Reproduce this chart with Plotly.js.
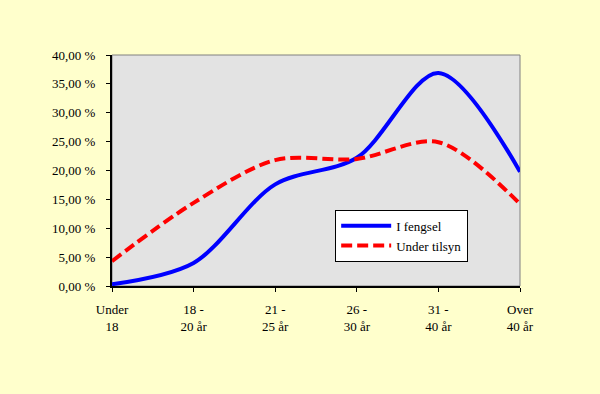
<!DOCTYPE html>
<html>
<head>
<meta charset="utf-8">
<script src="https://cdn.plot.ly/plotly-3.0.1.min.js"></script>
<style>html,body{margin:0;padding:0;background:#FFFFCC;}#chart{width:600px;height:394px;}</style>
</head>
<body>
<div id="chart"></div>
<script>
const categories = ["Under<br>18", "18 -<br>20 år", "21 -<br>25 år", "26 -<br>30 år", "31 -<br>40 år", "Over<br>40 år"];
const iFengsel = [0.3, 4.0, 17.6, 22.2, 36.9, 19.8];
const underTilsyn = [4.3, 14.4, 21.8, 22.0, 24.9, 14.2];
const yTicks = [0, 5, 10, 15, 20, 25, 30, 35, 40];
const yTickText = yTicks.map(v => v.toFixed(2).replace('.', ',') + ' %');

const xIdx = categories.map((c, i) => i);

const traces = [
  {x: xIdx, y: iFengsel, name: 'I fengsel', mode: 'lines', type: 'scatter',
   line: {color: '#0000FF', width: 4, shape: 'spline', smoothing: 0.9}},
  {x: xIdx, y: underTilsyn, name: 'Under tilsyn', mode: 'lines', type: 'scatter',
   line: {color: '#FF0000', width: 4, shape: 'spline', smoothing: 0.9, dash: '11px,5px'}}
];

const FAM = 'Times New Roman, Liberation Serif, serif';
const font = {family: FAM, color: '#000', size: 12};

const layout = {
  width: 600, height: 394,
  paper_bgcolor: '#FFFFCC', plot_bgcolor: '#E3E3E3',
  margin: {l: 112, r: 80, t: 55, b: 108},
  font: font,
  showlegend: true,
  legend: {x: 0.547, y: 0.33, xanchor: 'left', yanchor: 'top',
           bgcolor: '#FFFFFF', bordercolor: '#000', borderwidth: 1, itemwidth: 50,
           font: {family: FAM, size: 13, color: '#000'}, tracegroupgap: 4},
  xaxis: {
    range: [0, categories.length - 1], tickvals: xIdx, ticktext: categories,
    showgrid: false, zeroline: false, showline: true, linecolor: '#000', linewidth: 2,
    ticks: 'outside', ticklen: 4, tickcolor: '#000', tickwidth: 1,
    tickfont: {family: FAM, size: 13, color: '#000'}, ticklabelstandoff: 6
  },
  yaxis: {
    range: [0, 40], tickvals: yTicks, ticktext: yTickText,
    showgrid: false, zeroline: false, showline: true, linecolor: '#000', linewidth: 2,
    ticks: 'outside', ticklen: 4, tickcolor: '#000', tickwidth: 1,
    tickfont: {family: FAM, size: 13, color: '#000'}, ticklabelstandoff: 8
  },
  shapes: [
    {type: 'rect', xref: 'paper', yref: 'paper', x0: 0, x1: 1, y0: 0, y1: 1,
     line: {color: '#808080', width: 1}, fillcolor: 'rgba(0,0,0,0)', layer: 'below'}
  ]
};

Plotly.newPlot('chart', traces, layout, {displayModeBar: false, staticPlot: true});
</script>
</body>
</html>
